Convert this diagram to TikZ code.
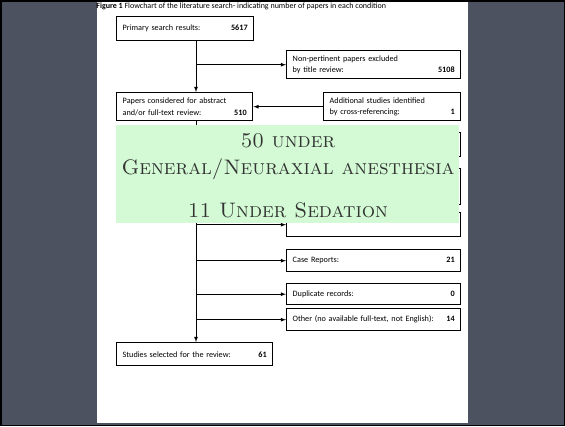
\documentclass[tikz,border=0pt]{standalone}
\usepackage{fontspec}
\newfontfamily\calibri{Carlito}
\usepackage{tikz}

\definecolor{slate}{RGB}{76,82,96}
\definecolor{paleGreen}{RGB}{211,250,212}

\tikzset{
  box/.style={draw, line width=1.4pt, anchor=north west, align=left,
    inner xsep=6pt, inner ysep=0pt, text width=#1,
    font=\calibri\fontsize{8.2}{11.5}\selectfont},
  oneline/.style={minimum height=22pt},
  twoline/.style={minimum height=28pt},
  banner/.style={anchor=base, inner sep=0pt, text=black!80,
    font=\fontsize{21}{25}\selectfont\scshape}
}

\begin{document}
\begin{tikzpicture}[x=1pt, y=-1pt, >=latex, line width=0.8pt]
\useasboundingbox (0,0) rectangle (565,426);

% slide and page
\fill[slate] (0,0) rectangle (565,426);
\fill[white] (97,2) rectangle (468,423);
\draw[line width=1.5pt] (0.75,0.75) rectangle (564.25,425.25);

\node [anchor=base west, inner sep=0pt, font=\calibri\fontsize{8}{9}\selectfont] (caption) at (96,8)
  {\textbf{Figure 1} Flowchart of the literature search- indicating number of papers in each condition};

% left column
\node [box=125pt, minimum height=24pt] (primary) at (116,16)
  {Primary search results:\hfill\textbf{5617}\hspace*{5pt}};
\node [box=124pt, twoline] (considered) at (116,92)
  {Papers considered for abstract\\and/or full-text review:\hfill\textbf{510}\hspace*{5pt}};
\node [box=144pt, minimum height=23pt] (selected) at (116,342)
  {Studies selected for the review:\hfill\textbf{61}\hspace*{11pt}};

% right column
\node [box=162pt, twoline] (excl-title) at (286,50)
  {Non-pertinent papers excluded\\by title review:\hfill\textbf{5108}\hspace*{11pt}};
\node [box=125pt, twoline] (additional) at (323,92)
  {Additional studies identified\\by cross-referencing:\hfill\textbf{1}\hspace*{9pt}};

\foreach \y/\h/\l/\n/\p [count=\i] in {132/24pt/{}/{}/0pt, 168/36pt/{}/{}/0pt, 212/24pt/{}/{}/0pt,
    249/22pt/{Case Reports:}/21/5pt, 283/21pt/{Duplicate records:}/0/14pt,
    308/22pt/{Other (no available full-text, not English):}/14/10pt}
  \node [box=162pt, minimum height=\h] (excl-\i) at (286,\y) {\l\hfill\textbf{\n}\hspace*{\p}};

% connectors
\coordinate (trunk) at (196,0);
\draw [->] (primary.south -| trunk) -- (considered.north -| trunk);
\draw [->] (considered.south -| trunk) -- (selected.north -| trunk);
\draw [->] (trunk |- excl-title.west) -- (excl-title.west);
\foreach \i in {1,...,6}
  \draw [->] (trunk |- excl-\i.west) -- (excl-\i.west);
\draw [->] (additional.west) -- (considered.east);

% green note on top
\fill[paleGreen] (116,125) rectangle (459.3,223);
\node [banner] (note-1) at (288,147) {50 under};
\node [banner] (note-2) at (288,174) {General/Neuraxial anesthesia};
\node [banner] (note-3) at (288,217) {11 Under Sedation};
\end{tikzpicture}
\end{document}
